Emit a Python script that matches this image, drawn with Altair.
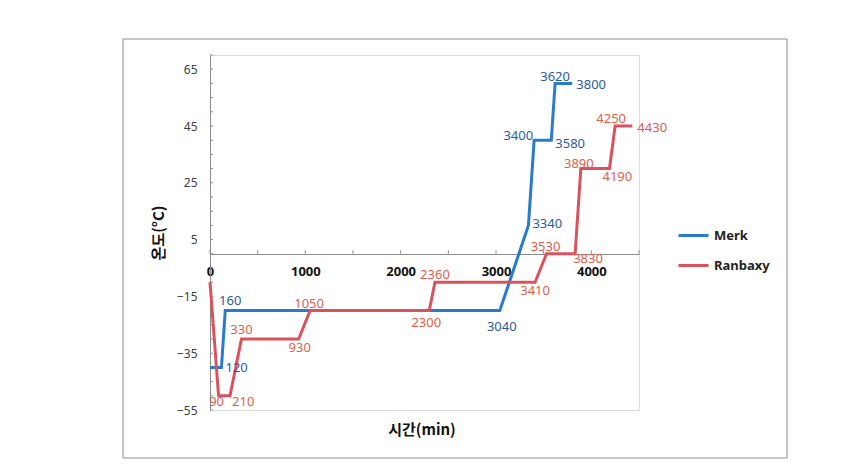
import altair as alt
import pandas as pd

# ---- data ----
series_names = ["Merk", "Ranbaxy"]
merk_time = [0, 120, 160, 3040, 3340, 3400, 3580, 3620, 3800]
merk_temp = [-40, -40, -20, -20, 10, 40, 40, 60, 60]
ranbaxy_time = [0, 90, 210, 330, 930, 1050, 2300, 2360, 3410, 3530, 3830, 3890, 4190, 4250, 4430]
ranbaxy_temp = [-10, -50, -50, -30, -30, -20, -20, -10, -10, 0, 0, 30, 30, 45, 45]
y_tick_labels = [-55, -35, -15, 5, 25, 45, 65]
x_tick_labels = [0, 1000, 2000, 3000, 4000]
y_minor_ticks = list(range(-55, 71, 5))
x_minor_ticks = list(range(0, 4501, 500))

# ---- style: label placement (align, dx px, dy px) per point ----
merk_label_place = [None, ("left", 4, 1), ("center", 5, -10), ("center", 2, 16), ("left", 4, -1),
                    ("right", -1, -4), ("left", 4, 4), ("center", 0, -6), ("left", 4, 2)]
ranbaxy_label_place = [None, ("center", -2, 6), ("left", 2, 6), ("center", 0, -9), ("center", 1, 9),
                       ("center", -1, -7), ("center", -3, 12), ("center", 0, -7), ("center", 0, 9),
                       ("center", -1, -7), ("left", -2, 5), ("center", -2, -5), ("left", -7, 8),
                       ("center", -4, -7), ("left", 5, 2)]

line_colors = ["#2b7bca", "#d9535f"]
label_colors = ["#2e5c9a", "#e0604c"]
axis_gray = "#8a8a8a"
KR = "Noto Sans CJK KR"
LAT = "Noto Sans"

rows = []
for s, ts, vs in [(series_names[0], merk_time, merk_temp), (series_names[1], ranbaxy_time, ranbaxy_temp)]:
    for i, (t, v) in enumerate(zip(ts, vs)):
        rows.append({"series": s, "time": t, "temp": v, "order": i})
df = pd.DataFrame(rows)

x_scale = alt.Scale(domain=[0, 4500], nice=False, zero=False)
y_scale = alt.Scale(domain=[-55, 70], nice=False, zero=False)
x_axis = alt.Axis(values=x_tick_labels, ticks=False, grid=False, domainColor=axis_gray,
                  labelFont=LAT, labelFontWeight="bold", labelFontSize=13, labelColor="#111111",
                  labelPadding=11, offset=-156, title=None, labelFlush=False, format="d")
y_axis = alt.Axis(values=y_tick_labels, ticks=False, grid=False, domainColor=axis_gray,
                  labelFont=LAT, labelFontSize=12, labelColor="#404040", labelPadding=13,
                  title="온도(°C)", titleFont=KR, titleFontWeight="bold", titleFontSize=15,
                  titleColor="#111111", titlePadding=10, labelFlush=False)

X = alt.X("time:Q", scale=x_scale, axis=x_axis)
Y = alt.Y("temp:Q", scale=y_scale, axis=y_axis)

lines = alt.Chart(df).mark_line(strokeWidth=3).encode(
    x=X, y=Y,
    color=alt.Color("series:N", scale=alt.Scale(domain=series_names, range=line_colors),
                    legend=alt.Legend(orient="none", legendX=467, legendY=164, title=None,
                                      symbolType="stroke", symbolSize=900, symbolStrokeWidth=3,
                                      labelFont=LAT, labelFontSize=13, labelFontWeight="bold",
                                      labelColor="#222222", rowPadding=6, labelOffset=4, padding=0)),
    order="order:Q",
)

# inside tick marks
ytick_df = pd.DataFrame({"temp": y_minor_ticks})
yticks = alt.Chart(ytick_df).mark_rule(color=axis_gray, strokeWidth=1).encode(
    y=Y, x=alt.datum(0), x2=alt.datum(30))
xtick_df = pd.DataFrame({"time": x_minor_ticks})
xticks = alt.Chart(xtick_df).mark_rule(color=axis_gray, strokeWidth=1).encode(
    x=X, y=alt.datum(0), y2=alt.datum(1.2))

label_layers = []
for si, (s, ts, places) in enumerate([(series_names[0], merk_time, merk_label_place),
                                       (series_names[1], ranbaxy_time, ranbaxy_label_place)]):
    for t, p in zip(ts, places):
        if p is None:
            continue
        align, dx, dy = p
        label_layers.append(
            alt.Chart(df).transform_filter(
                (alt.datum.series == s) & (alt.datum.time == t)
            ).mark_text(align=align, baseline="middle", dx=dx, dy=dy, font=LAT, fontSize=13,
                        color=label_colors[si]).encode(
                x=X, y=Y, text=alt.Text("time:Q", format="d"))
        )

one = pd.DataFrame({"a": [0]})
frame = alt.Chart(one).mark_rect(filled=False, stroke="#8c8c8c", strokeWidth=1).encode(
    x=alt.value(-87), x2=alt.value(577), y=alt.value(-16), y2=alt.value(403))
xtitle = alt.Chart(one).mark_text(text="시간(min)", font=KR, fontWeight="bold", fontSize=15,
                                  color="#111111", baseline="middle").encode(
    x=alt.value(212), y=alt.value(375))

chart = alt.layer(frame, yticks, xticks, lines, *label_layers, xtitle).properties(
    width=429, height=355,
    autosize=alt.AutoSizeParams(type="none"),
    padding={"left": 210, "top": 55, "right": 229, "bottom": 60},
).configure_view(stroke=None).configure(background="white")

chart.save("out.html", embed_options={"renderer": "svg", "actions": False})
